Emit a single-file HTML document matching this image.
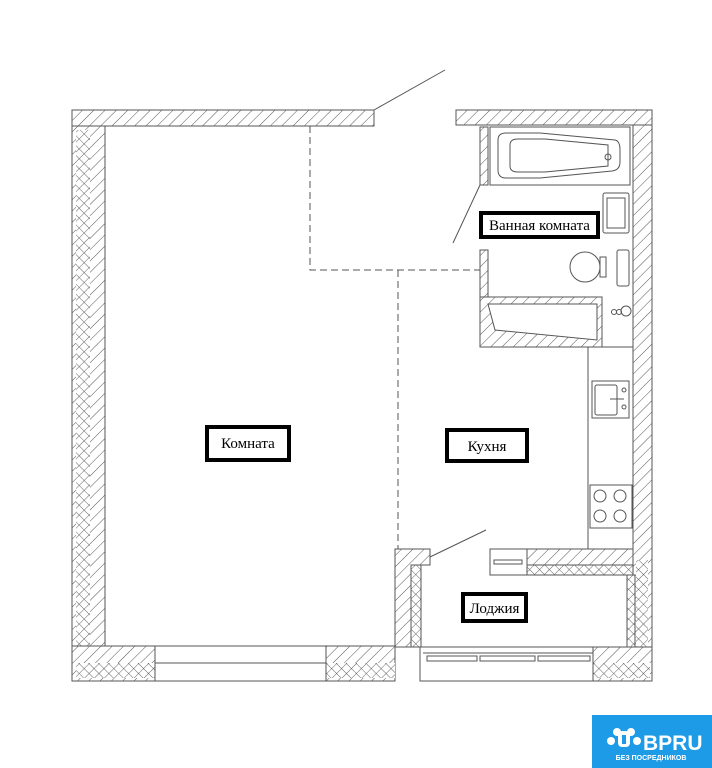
<!DOCTYPE html>
<html><head><meta charset="utf-8"><style>
html,body{margin:0;padding:0;background:#fff;}
svg{display:block;}
.lb{font-family:"Liberation Serif","Noto Serif CJK SC",serif;font-size:15px;fill:#000;}
</style></head><body>
<svg width="712" height="768" viewBox="0 0 712 768" xmlns="http://www.w3.org/2000/svg">
<defs>
<pattern id="d" width="8" height="8" patternUnits="userSpaceOnUse" patternTransform="rotate(45)">
<rect width="8" height="8" fill="#fff"/><line x1="0" y1="0" x2="0" y2="8" stroke="#555" stroke-width="1"/></pattern>
<pattern id="x" width="7" height="7" patternUnits="userSpaceOnUse" patternTransform="rotate(45)">
<rect width="7" height="7" fill="#fff"/><line x1="0" y1="0" x2="0" y2="7" stroke="#555" stroke-width="0.9"/><line x1="0" y1="0" x2="7" y2="0" stroke="#555" stroke-width="0.9"/></pattern>
</defs>
<g stroke="#555" stroke-width="1" fill="none">
<rect x="72" y="110" width="33" height="571" fill="url(#d)"/>
<rect x="76" y="130" width="14" height="548" fill="url(#x)" stroke="none"/>
<rect x="72" y="110" width="302" height="16" fill="url(#d)"/>
<rect x="456" y="110" width="196" height="15" fill="url(#d)"/>
<rect x="633" y="125" width="19" height="556" fill="url(#d)"/>
<rect x="636" y="560" width="12" height="118" fill="url(#x)" stroke="none"/>
<line x1="105" y1="126" x2="105" y2="646"/>
<rect x="72" y="646" width="323" height="35" fill="url(#d)"/>
<rect x="76" y="663" width="319" height="15" fill="url(#x)" stroke="none"/>
<rect x="155" y="646" width="171" height="35" fill="#fff"/>
<line x1="155" y1="663" x2="326" y2="663"/>
<rect x="593" y="647" width="59" height="34" fill="url(#d)"/>
<rect x="593" y="663" width="57" height="15" fill="url(#x)" stroke="none"/>
<rect x="420" y="647" width="173" height="34" fill="#fff"/>
<line x1="423" y1="653" x2="593" y2="653"/>
<rect x="427" y="656" width="50" height="5"/><rect x="480" y="656" width="55" height="5"/><rect x="538" y="656" width="52" height="5"/>
<path d="M395 549 H430 V565 H420 V647 H395 Z" fill="url(#d)"/>
<rect x="411" y="565" width="10" height="82" fill="url(#x)"/>
<rect x="527" y="549" width="106" height="26" fill="url(#d)"/>
<rect x="527" y="565" width="106" height="10" fill="url(#x)"/>
<rect x="490" y="549" width="37" height="26" fill="#fff"/>
<rect x="494" y="560" width="28" height="4"/>
<rect x="627" y="575" width="8" height="72" fill="url(#x)"/>
<path d="M310 126 V270 H480 M398 270 V549" stroke-dasharray="7,4"/>
<line x1="374" y1="110" x2="445" y2="70"/>
<line x1="480" y1="185" x2="453" y2="243"/>
<line x1="430" y1="557" x2="486" y2="530"/>
<rect x="480" y="127" width="8" height="58" fill="url(#d)"/>
<rect x="480" y="250" width="8" height="50" fill="url(#d)"/>
<path d="M480 297 H602 V347 H480 Z" fill="url(#d)"/>
<path d="M488 304 H597 V340 L495 330 Z" fill="#fff"/>
<rect x="490" y="127" width="140" height="58"/>
<path d="M498 140 Q498 133 506 133 H540 L615 140 Q620 141 620 150 V162 Q620 170 612 171 L540 178 H506 Q498 178 498 170 Z"/>
<path d="M510 145 Q510 139 518 139 H545 L608 145 V166 L545 172 H518 Q510 172 510 166 Z"/>
<circle cx="608" cy="157" r="3"/>
<rect x="603" y="193" width="26" height="40" rx="2"/><rect x="607" y="198" width="18" height="30"/>
<circle cx="585" cy="267" r="15"/><rect x="600" y="257" width="6" height="20"/>
<rect x="617" y="250" width="12" height="36" rx="2"/>
<circle cx="614" cy="312" r="2.5"/><circle cx="619" cy="312" r="2.5"/><circle cx="626" cy="311" r="5"/>
<rect x="588" y="347" width="45" height="202"/>
<rect x="592" y="381" width="37" height="37"/><rect x="595" y="385" width="22" height="30" rx="2"/>
<circle cx="624" cy="390" r="2"/><circle cx="624" cy="407" r="2"/><line x1="610" y1="399" x2="624" y2="399"/>
<rect x="590" y="485" width="42" height="43"/>
<circle cx="600" cy="496" r="6"/><circle cx="620" cy="496" r="6"/><circle cx="600" cy="516" r="6"/><circle cx="620" cy="516" r="6"/>
</g>
<g stroke="#000" stroke-width="4" fill="#fff">
<rect x="481" y="213" width="117" height="24"/>
<rect x="207" y="427" width="82" height="33"/>
<rect x="447" y="430" width="80" height="31"/>
<rect x="463" y="594" width="63" height="27"/>
</g>
<text class="lb" x="539.5" y="230" text-anchor="middle">Ванная комната</text>
<text class="lb" x="248" y="448" text-anchor="middle">Комната</text>
<text class="lb" x="487" y="451" text-anchor="middle">Кухня</text>
<text class="lb" x="494.5" y="613" text-anchor="middle">Лоджия</text>
<rect x="592" y="715" width="120" height="53" fill="#1e9be6"/>
<circle cx="617" cy="732" r="4" fill="#fff"/><circle cx="631" cy="732" r="4" fill="#fff"/>
<circle cx="611" cy="741" r="4" fill="#fff"/><circle cx="637" cy="741" r="4" fill="#fff"/>
<rect x="618" y="731" width="12" height="16" rx="4" fill="#fff"/>
<rect x="622" y="735" width="4" height="9" fill="#1e9be6"/>
<text x="643" y="750" font-family="Liberation Sans,sans-serif" font-size="21" font-weight="bold" fill="#fff">BPRU</text>
<text x="651" y="760" text-anchor="middle" font-family="Liberation Sans,sans-serif" font-size="7" font-weight="bold" fill="#fff">БЕЗ ПОСРЕДНИКОВ</text>
</svg>
</body></html>
